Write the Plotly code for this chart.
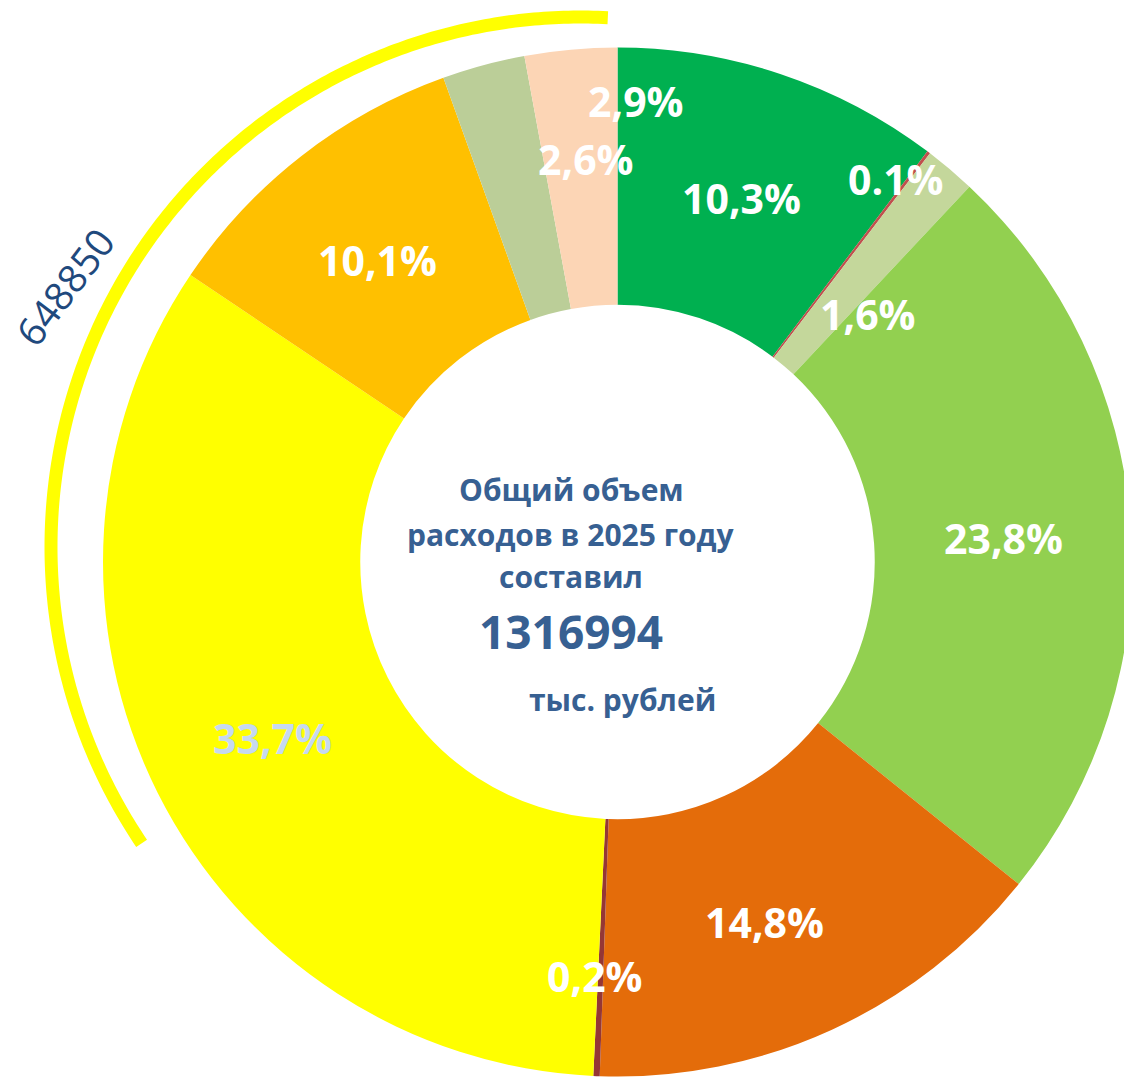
import math
import plotly.graph_objects as go

# ---------------- data ----------------
shares = [10.3, 0.1, 1.6, 23.8, 14.8, 0.2, 33.7, 10.1, 2.6, 2.9]
share_labels = ["10,3%", "0.1%", "1,6%", "23,8%", "14,8%", "0,2%", "33,7%", "10,1%", "2,6%", "2,9%"]
slice_colors = ["#00B050", "#C0504D", "#C4D79B", "#92D050", "#E46C0A",
                "#953735", "#FFFF00", "#FFC000", "#BBCE98", "#FCD5B5"]
total_value = 1316994
group_value = 648850
center_lines = ["Общий объем", "расходов в 2025 году", "составил"]
unit_text = "тыс. рублей"

# ---------------- layout constants ----------------
OFF = 8                      # page body margin of the html page
PW, PH = 1132, 1077          # page (window) size
W, H = PW - OFF, PH - OFF    # figure size
CX, CY, R = 618 - OFF, 562 - OFF, 515
HOLE = 0.5
# label placement: (angle offset from slice middle in deg, radius fraction)
label_place = [(0.4, 0.74), (-1.0, 0.915), (5.3, 0.68), (1.0, 0.75), (2.7, 0.76),
               (0.8, 0.81), (-0.7, 0.755), (-0.8, 0.745), (10.5, 0.78), (7.5, 0.89)]
label_colors = ["white"] * 6 + ["#C6D9F0"] + ["white"] * 3
FONT = "Open Sans"
TXT_BLUE = "#376092"


def px(x):
    return x - OFF


fig = go.Figure()

fig.add_trace(go.Pie(
    values=shares,
    labels=[f"s{i}" for i in range(len(shares))],
    marker=dict(colors=slice_colors, line=dict(width=0)),
    sort=False,
    direction="clockwise",
    rotation=0,
    hole=HOLE,
    textinfo="none",
    hoverinfo="skip",
    showlegend=False,
    domain=dict(x=[(CX - R) / W, min(1, (CX + R) / W)],
                y=[max(0, (H - CY - R) / H), (H - CY + R) / H]),
))

# outer yellow arc marking the group total
ARC_CX, ARC_CY, ARC_R = px(581), px(547), 530
arc_start, arc_end = -124.0, 2.9
n = 240
arc_t = [math.radians(arc_start + (arc_end - arc_start) * i / (n - 1)) for i in range(n)]
fig.add_trace(go.Scatter(
    x=[ARC_CX + ARC_R * math.sin(t) for t in arc_t],
    y=[ARC_CY - ARC_R * math.cos(t) for t in arc_t],
    mode="lines", line=dict(color="#FFFF00", width=13, simplify=False),
    hoverinfo="skip", showlegend=False,
))

annotations = []
tot = sum(shares)
cum = 0.0
for v, lab, (da, rf), col in zip(shares, share_labels, label_place, label_colors):
    mid = (cum + v / 2) / tot * 360.0
    cum += v
    a = math.radians(mid + da)
    annotations.append(dict(
        x=CX + rf * R * math.sin(a), y=CY - rf * R * math.cos(a) - 3,
        xref="x", yref="y", text=f"<b>{lab}</b>", showarrow=False,
        font=dict(family=FONT, size=41, color=col),
        xanchor="center", yanchor="middle",
    ))

for txt, yy in zip(center_lines, [489, 534, 576]):
    annotations.append(dict(x=px(571), y=px(yy), xref="x", yref="y", text=f"<b>{txt}</b>",
                            showarrow=False, font=dict(family=FONT, size=30, color=TXT_BLUE),
                            xanchor="center", yanchor="middle"))
annotations.append(dict(x=px(571), y=px(631), xref="x", yref="y", text=f"<b>{total_value}</b>",
                        showarrow=False, font=dict(family=FONT, size=46, color=TXT_BLUE),
                        xanchor="center", yanchor="middle"))
annotations.append(dict(x=px(622), y=px(699), xref="x", yref="y", text=f"<b>{unit_text}</b>",
                        showarrow=False, font=dict(family=FONT, size=30, color=TXT_BLUE),
                        xanchor="center", yanchor="middle"))
annotations.append(dict(x=px(64), y=px(286), xref="x", yref="y", text=str(group_value),
                        showarrow=False, textangle=-53,
                        font=dict(family=FONT, size=39, color="#1F497D"),
                        xanchor="center", yanchor="middle"))

fig.update_layout(
    width=W, height=H,
    margin=dict(l=0, r=0, t=0, b=0),
    paper_bgcolor="white", plot_bgcolor="rgba(0,0,0,0)",
    xaxis=dict(range=[0, W], visible=False, fixedrange=True),
    yaxis=dict(range=[H, 0], visible=False, fixedrange=True),
    annotations=annotations,
    showlegend=False,
)

fig.write_html("out.html")
